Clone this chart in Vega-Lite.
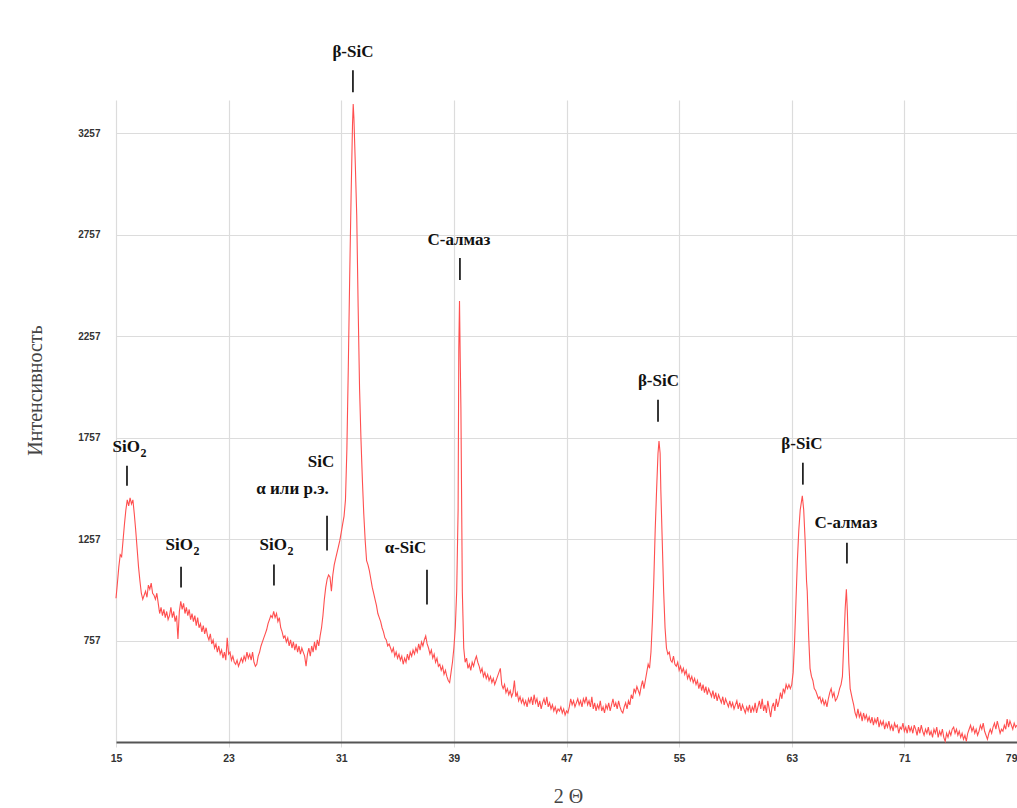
{
"$schema": "https://vega.github.io/schema/vega-lite/v6.json",
"width": 901, "height": 642,
"autosize": {"type": "none"},
"padding": {"left": 116, "top": 100, "right": 0, "bottom": 66},
"background": "white",
"config": {"view": {"stroke": null}},
"datasets": {
"xrd": [
{"x":15.0,"y":965},{"x":15.1,"y":1040},{"x":15.2,"y":1120},{"x":15.3,"y":1180},{"x":15.4,"y":1170},{"x":15.5,"y":1250},{"x":15.6,"y":1330},{"x":15.7,"y":1400},{"x":15.8,"y":1450},{"x":15.9,"y":1420},
{"x":16.0,"y":1460},{"x":16.1,"y":1430},{"x":16.2,"y":1450},{"x":16.3,"y":1380},{"x":16.4,"y":1300},{"x":16.5,"y":1210},{"x":16.6,"y":1120},{"x":16.7,"y":1050},{"x":16.8,"y":990},{"x":16.9,"y":960},
{"x":17.0,"y":980},{"x":17.1,"y":1000},{"x":17.2,"y":970},{"x":17.3,"y":1030},{"x":17.4,"y":1010},{"x":17.5,"y":1040},{"x":17.6,"y":990},{"x":17.7,"y":980},{"x":17.8,"y":960},{"x":17.9,"y":990},
{"x":18.0,"y":940},{"x":18.1,"y":890},{"x":18.2,"y":920},{"x":18.3,"y":880},{"x":18.4,"y":910},{"x":18.5,"y":870},{"x":18.6,"y":900},{"x":18.7,"y":860},{"x":18.8,"y":880},{"x":18.9,"y":920},
{"x":19.0,"y":870},{"x":19.1,"y":900},{"x":19.2,"y":850},{"x":19.3,"y":880},{"x":19.4,"y":765},{"x":19.5,"y":900},{"x":19.6,"y":950},{"x":19.7,"y":910},{"x":19.8,"y":940},{"x":19.9,"y":890},
{"x":20.0,"y":920},{"x":20.1,"y":880},{"x":20.2,"y":910},{"x":20.3,"y":860},{"x":20.4,"y":890},{"x":20.5,"y":850},{"x":20.6,"y":880},{"x":20.7,"y":830},{"x":20.8,"y":870},{"x":20.9,"y":820},
{"x":21.0,"y":840},{"x":21.1,"y":800},{"x":21.2,"y":830},{"x":21.3,"y":790},{"x":21.4,"y":820},{"x":21.5,"y":780},{"x":21.6,"y":760},{"x":21.7,"y":790},{"x":21.8,"y":740},{"x":21.9,"y":760},
{"x":22.0,"y":720},{"x":22.1,"y":740},{"x":22.2,"y":700},{"x":22.3,"y":730},{"x":22.4,"y":690},{"x":22.5,"y":710},{"x":22.6,"y":670},{"x":22.7,"y":700},{"x":22.8,"y":660},{"x":22.9,"y":770},
{"x":23.0,"y":690},{"x":23.1,"y":700},{"x":23.2,"y":660},{"x":23.3,"y":680},{"x":23.4,"y":650},{"x":23.5,"y":640},{"x":23.6,"y":660},{"x":23.7,"y":630},{"x":23.8,"y":650},{"x":23.9,"y":670},
{"x":24.0,"y":650},{"x":24.1,"y":680},{"x":24.2,"y":660},{"x":24.3,"y":700},{"x":24.4,"y":670},{"x":24.5,"y":690},{"x":24.6,"y":660},{"x":24.7,"y":700},{"x":24.8,"y":650},{"x":24.9,"y":630},
{"x":25.0,"y":640},{"x":25.1,"y":680},{"x":25.2,"y":700},{"x":25.3,"y":730},{"x":25.4,"y":750},{"x":25.5,"y":770},{"x":25.6,"y":790},{"x":25.7,"y":810},{"x":25.8,"y":840},{"x":25.9,"y":860},
{"x":26.0,"y":880},{"x":26.1,"y":870},{"x":26.2,"y":900},{"x":26.3,"y":870},{"x":26.4,"y":890},{"x":26.5,"y":850},{"x":26.6,"y":870},{"x":26.7,"y":820},{"x":26.8,"y":800},{"x":26.9,"y":770},
{"x":27.0,"y":780},{"x":27.1,"y":750},{"x":27.2,"y":770},{"x":27.3,"y":730},{"x":27.4,"y":760},{"x":27.5,"y":720},{"x":27.6,"y":750},{"x":27.7,"y":710},{"x":27.8,"y":740},{"x":27.9,"y":700},
{"x":28.0,"y":730},{"x":28.1,"y":690},{"x":28.2,"y":720},{"x":28.3,"y":700},{"x":28.4,"y":680},{"x":28.5,"y":630},{"x":28.6,"y":690},{"x":28.7,"y":720},{"x":28.8,"y":680},{"x":28.9,"y":730},
{"x":29.0,"y":700},{"x":29.1,"y":750},{"x":29.2,"y":710},{"x":29.3,"y":760},{"x":29.4,"y":730},{"x":29.5,"y":780},{"x":29.6,"y":820},{"x":29.7,"y":880},{"x":29.8,"y":960},{"x":29.9,"y":1020},
{"x":30.0,"y":1060},{"x":30.1,"y":1080},{"x":30.2,"y":1070},{"x":30.3,"y":1000},{"x":30.4,"y":1080},{"x":30.5,"y":1130},{"x":30.6,"y":1160},{"x":30.7,"y":1190},{"x":30.8,"y":1220},{"x":30.9,"y":1250},
{"x":31.0,"y":1290},{"x":31.1,"y":1330},{"x":31.2,"y":1370},{"x":31.3,"y":1450},{"x":31.4,"y":1700},{"x":31.5,"y":2100},{"x":31.6,"y":2550},{"x":31.7,"y":2950},{"x":31.8,"y":3300},{"x":31.85,"y":3400},{"x":31.9,"y":3330},
{"x":32.0,"y":3100},{"x":32.1,"y":2850},{"x":32.2,"y":2400},{"x":32.3,"y":2000},{"x":32.4,"y":1750},{"x":32.5,"y":1550},{"x":32.6,"y":1380},{"x":32.7,"y":1250},{"x":32.8,"y":1150},{"x":32.9,"y":1130},
{"x":33.0,"y":1100},{"x":33.1,"y":1060},{"x":33.2,"y":1020},{"x":33.3,"y":990},{"x":33.4,"y":960},{"x":33.5,"y":930},{"x":33.6,"y":890},{"x":33.7,"y":870},{"x":33.8,"y":850},{"x":33.9,"y":820},
{"x":34.0,"y":800},{"x":34.1,"y":770},{"x":34.2,"y":760},{"x":34.3,"y":730},{"x":34.4,"y":740},{"x":34.5,"y":720},{"x":34.6,"y":700},{"x":34.7,"y":720},{"x":34.8,"y":680},{"x":34.9,"y":700},
{"x":35.0,"y":670},{"x":35.1,"y":690},{"x":35.2,"y":660},{"x":35.3,"y":680},{"x":35.4,"y":640},{"x":35.5,"y":670},{"x":35.6,"y":650},{"x":35.7,"y":690},{"x":35.8,"y":660},{"x":35.9,"y":700},
{"x":36.0,"y":680},{"x":36.1,"y":710},{"x":36.2,"y":690},{"x":36.3,"y":720},{"x":36.4,"y":700},{"x":36.5,"y":740},{"x":36.6,"y":710},{"x":36.7,"y":750},{"x":36.8,"y":730},{"x":36.9,"y":760},
{"x":37.0,"y":780},{"x":37.1,"y":740},{"x":37.2,"y":720},{"x":37.3,"y":690},{"x":37.4,"y":710},{"x":37.5,"y":670},{"x":37.6,"y":690},{"x":37.7,"y":650},{"x":37.8,"y":670},{"x":37.9,"y":630},
{"x":38.0,"y":640},{"x":38.1,"y":610},{"x":38.2,"y":630},{"x":38.3,"y":590},{"x":38.4,"y":610},{"x":38.5,"y":580},{"x":38.6,"y":560},{"x":38.7,"y":550},{"x":38.8,"y":600},{"x":38.9,"y":650},
{"x":39.0,"y":720},{"x":39.1,"y":820},{"x":39.2,"y":1000},{"x":39.3,"y":1400},{"x":39.35,"y":2200},{"x":39.4,"y":2430},{"x":39.45,"y":2150},{"x":39.5,"y":1900},{"x":39.6,"y":1000},{"x":39.7,"y":720},{"x":39.8,"y":650},{"x":39.9,"y":670},
{"x":40.0,"y":620},{"x":40.1,"y":640},{"x":40.2,"y":610},{"x":40.3,"y":650},{"x":40.4,"y":630},{"x":40.5,"y":660},{"x":40.6,"y":680},{"x":40.7,"y":650},{"x":40.8,"y":630},{"x":40.9,"y":600},
{"x":41.0,"y":620},{"x":41.1,"y":580},{"x":41.2,"y":600},{"x":41.3,"y":570},{"x":41.4,"y":590},{"x":41.5,"y":560},{"x":41.6,"y":580},{"x":41.7,"y":550},{"x":41.8,"y":570},{"x":41.9,"y":540},
{"x":42.0,"y":560},{"x":42.1,"y":580},{"x":42.2,"y":600},{"x":42.3,"y":620},{"x":42.4,"y":540},{"x":42.5,"y":520},{"x":42.6,"y":540},{"x":42.7,"y":500},{"x":42.8,"y":520},{"x":42.9,"y":490},
{"x":43.0,"y":510},{"x":43.1,"y":480},{"x":43.2,"y":500},{"x":43.3,"y":560},{"x":43.4,"y":480},{"x":43.5,"y":500},{"x":43.6,"y":460},{"x":43.7,"y":480},{"x":43.8,"y":450},{"x":43.9,"y":470},
{"x":44.0,"y":440},{"x":44.1,"y":460},{"x":44.2,"y":430},{"x":44.3,"y":470},{"x":44.4,"y":450},{"x":44.5,"y":480},{"x":44.6,"y":440},{"x":44.7,"y":490},{"x":44.8,"y":450},{"x":44.9,"y":470},
{"x":45.0,"y":430},{"x":45.1,"y":460},{"x":45.2,"y":420},{"x":45.3,"y":450},{"x":45.4,"y":470},{"x":45.5,"y":440},{"x":45.6,"y":480},{"x":45.7,"y":430},{"x":45.8,"y":450},{"x":45.9,"y":420},
{"x":46.0,"y":440},{"x":46.1,"y":410},{"x":46.2,"y":430},{"x":46.3,"y":400},{"x":46.4,"y":420},{"x":46.5,"y":410},{"x":46.6,"y":430},{"x":46.7,"y":400},{"x":46.8,"y":420},{"x":46.9,"y":390},
{"x":47.0,"y":410},{"x":47.1,"y":400},{"x":47.2,"y":430},{"x":47.3,"y":470},{"x":47.4,"y":440},{"x":47.5,"y":460},{"x":47.6,"y":430},{"x":47.7,"y":450},{"x":47.8,"y":470},{"x":47.9,"y":440},
{"x":48.0,"y":460},{"x":48.1,"y":430},{"x":48.2,"y":470},{"x":48.3,"y":450},{"x":48.4,"y":480},{"x":48.5,"y":440},{"x":48.6,"y":460},{"x":48.7,"y":430},{"x":48.8,"y":480},{"x":48.9,"y":420},
{"x":49.0,"y":450},{"x":49.1,"y":410},{"x":49.2,"y":440},{"x":49.3,"y":420},{"x":49.4,"y":460},{"x":49.5,"y":410},{"x":49.6,"y":430},{"x":49.7,"y":400},{"x":49.8,"y":440},{"x":49.9,"y":420},
{"x":50.0,"y":450},{"x":50.1,"y":410},{"x":50.2,"y":440},{"x":50.3,"y":470},{"x":50.4,"y":430},{"x":50.5,"y":450},{"x":50.6,"y":420},{"x":50.7,"y":460},{"x":50.8,"y":430},{"x":50.9,"y":410},
{"x":51.0,"y":400},{"x":51.1,"y":430},{"x":51.2,"y":450},{"x":51.3,"y":420},{"x":51.4,"y":460},{"x":51.5,"y":440},{"x":51.6,"y":490},{"x":51.7,"y":470},{"x":51.8,"y":520},{"x":51.9,"y":500},
{"x":52.0,"y":530},{"x":52.1,"y":510},{"x":52.2,"y":490},{"x":52.3,"y":530},{"x":52.4,"y":560},{"x":52.5,"y":520},{"x":52.6,"y":560},{"x":52.7,"y":600},{"x":52.8,"y":640},{"x":52.9,"y":620},
{"x":53.0,"y":700},{"x":53.1,"y":850},{"x":53.2,"y":1050},{"x":53.3,"y":1300},{"x":53.4,"y":1500},{"x":53.5,"y":1680},{"x":53.57,"y":1740},{"x":53.65,"y":1680},{"x":53.7,"y":1500},{"x":53.8,"y":1250},{"x":53.9,"y":1000},
{"x":54.0,"y":820},{"x":54.1,"y":720},{"x":54.2,"y":690},{"x":54.3,"y":700},{"x":54.4,"y":660},{"x":54.5,"y":650},{"x":54.6,"y":680},{"x":54.7,"y":640},{"x":54.8,"y":630},{"x":54.9,"y":650},
{"x":55.0,"y":610},{"x":55.1,"y":630},{"x":55.2,"y":600},{"x":55.3,"y":620},{"x":55.4,"y":590},{"x":55.5,"y":610},{"x":55.6,"y":570},{"x":55.7,"y":590},{"x":55.8,"y":560},{"x":55.9,"y":580},
{"x":56.0,"y":550},{"x":56.1,"y":570},{"x":56.2,"y":540},{"x":56.3,"y":560},{"x":56.4,"y":520},{"x":56.5,"y":550},{"x":56.6,"y":510},{"x":56.7,"y":540},{"x":56.8,"y":500},{"x":56.9,"y":530},
{"x":57.0,"y":490},{"x":57.1,"y":520},{"x":57.2,"y":500},{"x":57.3,"y":480},{"x":57.4,"y":510},{"x":57.5,"y":470},{"x":57.6,"y":500},{"x":57.7,"y":460},{"x":57.8,"y":490},{"x":57.9,"y":470},
{"x":58.0,"y":450},{"x":58.1,"y":480},{"x":58.2,"y":440},{"x":58.3,"y":470},{"x":58.4,"y":450},{"x":58.5,"y":430},{"x":58.6,"y":460},{"x":58.7,"y":430},{"x":58.8,"y":450},{"x":58.9,"y":420},
{"x":59.0,"y":440},{"x":59.1,"y":460},{"x":59.2,"y":420},{"x":59.3,"y":450},{"x":59.4,"y":410},{"x":59.5,"y":440},{"x":59.6,"y":420},{"x":59.7,"y":400},{"x":59.8,"y":430},{"x":59.9,"y":410},
{"x":60.0,"y":440},{"x":60.1,"y":400},{"x":60.2,"y":430},{"x":60.3,"y":410},{"x":60.4,"y":450},{"x":60.5,"y":400},{"x":60.6,"y":430},{"x":60.7,"y":460},{"x":60.8,"y":420},{"x":60.9,"y":470},
{"x":61.0,"y":410},{"x":61.1,"y":440},{"x":61.2,"y":400},{"x":61.3,"y":460},{"x":61.4,"y":420},{"x":61.5,"y":380},{"x":61.6,"y":430},{"x":61.7,"y":450},{"x":61.8,"y":410},{"x":61.9,"y":470},
{"x":62.0,"y":430},{"x":62.1,"y":460},{"x":62.2,"y":500},{"x":62.3,"y":470},{"x":62.4,"y":520},{"x":62.5,"y":500},{"x":62.6,"y":540},{"x":62.7,"y":520},{"x":62.8,"y":540},{"x":62.9,"y":520},
{"x":63.0,"y":540},{"x":63.1,"y":600},{"x":63.2,"y":750},{"x":63.3,"y":950},{"x":63.4,"y":1150},{"x":63.5,"y":1300},{"x":63.6,"y":1400},{"x":63.75,"y":1470},{"x":63.85,"y":1400},{"x":63.95,"y":1250},
{"x":64.05,"y":1050},{"x":64.1,"y":1000},{"x":64.2,"y":780},{"x":64.3,"y":620},{"x":64.4,"y":580},{"x":64.5,"y":560},{"x":64.6,"y":520},{"x":64.7,"y":510},{"x":64.8,"y":490},{"x":64.9,"y":470},
{"x":65.0,"y":480},{"x":65.1,"y":450},{"x":65.2,"y":470},{"x":65.3,"y":440},{"x":65.4,"y":460},{"x":65.5,"y":430},{"x":65.6,"y":470},{"x":65.7,"y":500},{"x":65.8,"y":520},{"x":65.9,"y":480},
{"x":66.0,"y":500},{"x":66.1,"y":460},{"x":66.2,"y":470},{"x":66.3,"y":490},{"x":66.4,"y":520},{"x":66.5,"y":540},{"x":66.6,"y":580},{"x":66.7,"y":750},{"x":66.8,"y":920},{"x":66.88,"y":1010},{"x":66.95,"y":900},
{"x":67.05,"y":650},{"x":67.15,"y":520},{"x":67.3,"y":470},{"x":67.4,"y":440},{"x":67.5,"y":400},{"x":67.6,"y":380},{"x":67.7,"y":420},{"x":67.8,"y":380},{"x":67.9,"y":400},
{"x":68.0,"y":360},{"x":68.1,"y":400},{"x":68.2,"y":370},{"x":68.3,"y":390},{"x":68.4,"y":360},{"x":68.5,"y":380},{"x":68.6,"y":350},{"x":68.7,"y":380},{"x":68.8,"y":340},{"x":68.9,"y":370},
{"x":69.0,"y":350},{"x":69.1,"y":380},{"x":69.2,"y":330},{"x":69.3,"y":360},{"x":69.4,"y":340},{"x":69.5,"y":360},{"x":69.6,"y":320},{"x":69.7,"y":350},{"x":69.8,"y":330},{"x":69.9,"y":360},
{"x":70.0,"y":320},{"x":70.1,"y":340},{"x":70.2,"y":310},{"x":70.3,"y":350},{"x":70.4,"y":330},{"x":70.5,"y":340},{"x":70.6,"y":300},{"x":70.7,"y":330},{"x":70.8,"y":320},{"x":70.9,"y":350},
{"x":71.0,"y":310},{"x":71.1,"y":330},{"x":71.2,"y":300},{"x":71.3,"y":340},{"x":71.4,"y":310},{"x":71.5,"y":330},{"x":71.6,"y":300},{"x":71.7,"y":340},{"x":71.8,"y":320},{"x":71.9,"y":290},
{"x":72.0,"y":330},{"x":72.1,"y":300},{"x":72.2,"y":340},{"x":72.3,"y":310},{"x":72.4,"y":290},{"x":72.5,"y":320},{"x":72.6,"y":300},{"x":72.7,"y":330},{"x":72.8,"y":290},{"x":72.9,"y":310},
{"x":73.0,"y":280},{"x":73.1,"y":320},{"x":73.2,"y":300},{"x":73.3,"y":330},{"x":73.4,"y":280},{"x":73.5,"y":310},{"x":73.6,"y":290},{"x":73.7,"y":320},{"x":73.8,"y":280},{"x":73.9,"y":260},
{"x":74.0,"y":300},{"x":74.1,"y":280},{"x":74.2,"y":310},{"x":74.3,"y":290},{"x":74.4,"y":320},{"x":74.5,"y":330},{"x":74.6,"y":300},{"x":74.7,"y":320},{"x":74.8,"y":290},{"x":74.9,"y":310},
{"x":75.0,"y":280},{"x":75.1,"y":300},{"x":75.2,"y":270},{"x":75.3,"y":290},{"x":75.4,"y":260},{"x":75.5,"y":300},{"x":75.6,"y":320},{"x":75.7,"y":340},{"x":75.8,"y":310},{"x":75.9,"y":330},
{"x":76.0,"y":300},{"x":76.1,"y":320},{"x":76.2,"y":290},{"x":76.3,"y":310},{"x":76.4,"y":340},{"x":76.5,"y":320},{"x":76.6,"y":350},{"x":76.7,"y":310},{"x":76.8,"y":290},{"x":76.9,"y":270},
{"x":77.0,"y":300},{"x":77.1,"y":320},{"x":77.2,"y":300},{"x":77.3,"y":330},{"x":77.4,"y":350},{"x":77.5,"y":320},{"x":77.6,"y":360},{"x":77.7,"y":330},{"x":77.8,"y":300},{"x":77.9,"y":320},
{"x":78.0,"y":310},{"x":78.1,"y":340},{"x":78.2,"y":320},{"x":78.3,"y":370},{"x":78.4,"y":330},{"x":78.5,"y":360},{"x":78.6,"y":340},{"x":78.7,"y":320},{"x":78.8,"y":350},{"x":78.9,"y":330},{"x":79.0,"y":340}
],
"labels": [
{"x":31.83,"y":3655,"t":"β-SiC"},
{"x":39.36,"y":2730,"t":"С-алмаз"},
{"x":53.53,"y":2036,"t":"β-SiC"},
{"x":63.72,"y":1726,"t":"β-SiC"},
{"x":66.85,"y":1338,"t":"С-алмаз"},
{"x":29.56,"y":1638,"t":"SiC"},
{"x":27.54,"y":1505,"t":"α или р.э."},
{"x":35.56,"y":1215,"t":"α-SiC"}
],
"sio": [
{"x":16.70,"y":1711},
{"x":20.47,"y":1229},
{"x":27.14,"y":1229}
],
"ticks": [
{"x":31.83,"y1":3566,"y2":3458},
{"x":39.43,"y1":2641,"y2":2533},
{"x":53.5,"y1":1943,"y2":1835},
{"x":63.79,"y1":1633,"y2":1525},
{"x":66.92,"y1":1239,"y2":1136},
{"x":15.78,"y1":1618,"y2":1520},
{"x":19.62,"y1":1121,"y2":1018},
{"x":26.22,"y1":1131,"y2":1028},
{"x":29.99,"y1":1372,"y2":1200},
{"x":37.09,"y1":1106,"y2":934}
]
},
"layer": [
{
"data": {"name": "xrd"},
"mark": {"type": "line", "color": "#ff4f4f", "strokeWidth": 1.1},
"encoding": {
"x": {"field": "x", "type": "quantitative",
"scale": {"domain": [15, 79], "nice": false, "zero": false},
"axis": {"values": [15, 23, 31, 39, 47, 55, 63, 71, 79], "format": "d", "grid": true, "gridColor": "#dcdcdc", "gridWidth": 1.2,
"ticks": true, "tickColor": "#dcdcdc", "tickSize": 5, "domainColor": "#555", "domainWidth": 2,
"labelFont": "Liberation Sans", "labelFontWeight": "bold", "labelFontSize": 10.5, "labelColor": "#333", "labelPadding": 6,
"labelFlush": false, "labelOverlap": false,
"labelAlign": {"condition": {"test": "datum.value == 79", "value": "right"}, "value": "center"},
"title": "2 Θ", "titleFont": "Liberation Serif", "titleFontSize": 20, "titleFontWeight": "normal", "titleColor": "#444",
"titleX": 452, "titleY": 44, "titleBaseline": "top", "titleAnchor": null}},
"y": {"field": "y", "type": "quantitative",
"scale": {"domain": [257, 3420], "nice": false, "zero": false},
"axis": {"values": [757, 1257, 1757, 2257, 2757, 3257], "format": "d", "grid": true, "gridColor": "#dcdcdc", "gridWidth": 1.2,
"ticks": false, "domain": false,
"labelFont": "Liberation Sans", "labelFontWeight": "bold", "labelFontSize": 10, "labelColor": "#333", "labelPadding": 16,
"title": "Интенсивность", "titleFont": "Liberation Serif", "titleFontSize": 20, "titleFontWeight": "normal", "titleColor": "#444",
"titleX": -81, "titleY": 290, "titleAngle": -90, "titleBaseline": "middle", "titleAlign": "center"}}
}
},
{
"data": {"name": "ticks"},
"mark": {"type": "rule", "color": "#222", "strokeWidth": 1.8},
"encoding": {
"x": {"field": "x", "type": "quantitative"},
"y": {"field": "y1", "type": "quantitative"},
"y2": {"field": "y2"}
}
},
{
"data": {"name": "labels"},
"mark": {"type": "text", "font": "Liberation Serif", "fontWeight": "bold", "fontSize": 17, "baseline": "middle", "align": "center", "color": "#111"},
"encoding": {
"x": {"field": "x", "type": "quantitative"},
"y": {"field": "y", "type": "quantitative"},
"text": {"field": "t"}
}
},
{
"data": {"name": "sio"},
"mark": {"type": "text", "font": "Liberation Serif", "fontWeight": "bold", "fontSize": 17, "baseline": "middle", "align": "right", "color": "#111"},
"encoding": {
"x": {"field": "x", "type": "quantitative"},
"y": {"field": "y", "type": "quantitative"},
"text": {"value": "SiO"}
}
},
{
"data": {"name": "sio"},
"mark": {"type": "text", "font": "Liberation Serif", "fontWeight": "bold", "fontSize": 12, "baseline": "middle", "align": "left", "dy": 6, "dx": 0.5, "color": "#111"},
"encoding": {
"x": {"field": "x", "type": "quantitative"},
"y": {"field": "y", "type": "quantitative"},
"text": {"value": "2"}
}
}
]
}
